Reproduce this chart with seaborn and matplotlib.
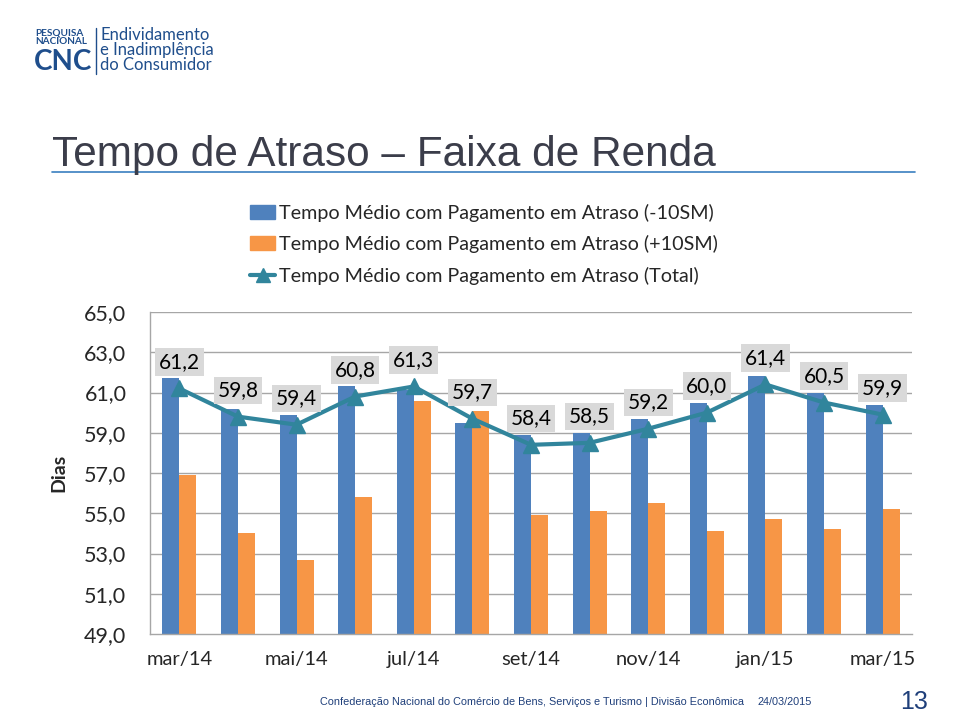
import numpy as np
import pandas as pd
import matplotlib.pyplot as plt
import seaborn as sns
from matplotlib.patches import Patch
from matplotlib.lines import Line2D

# Data
meses = ['mar/14', 'abr/14', 'mai/14', 'jun/14', 'jul/14', 'ago/14', 'set/14',
         'out/14', 'nov/14', 'dez/14', 'jan/15', 'fev/15', 'mar/15']
menos_10sm = [61.7, 60.2, 59.9, 61.3, 61.1, 59.5, 58.9, 59.0, 59.7, 60.5, 61.8, 61.0, 60.4]
mais_10sm = [56.9, 54.0, 52.7, 55.8, 60.6, 60.1, 54.9, 55.1, 55.5, 54.1, 54.7, 54.2, 55.2]
total = [61.2, 59.8, 59.4, 60.8, 61.3, 59.7, 58.4, 58.5, 59.2, 60.0, 61.4, 60.5, 59.9]

serie_a = 'Tempo Médio com Pagamento em Atraso (-10SM)'
serie_b = 'Tempo Médio com Pagamento em Atraso (+10SM)'
serie_c = 'Tempo Médio com Pagamento em Atraso (Total)'

df = pd.DataFrame({'mes': meses * 2,
                   'valor': menos_10sm + mais_10sm,
                   'serie': [serie_a] * len(meses) + [serie_b] * len(meses)})

sns.set_theme(style='white')
plt.rcParams['font.family'] = ['Lato', 'DejaVu Sans']

azul = '#4f81bd'
laranja = '#f79646'
verde = '#31859c'
cinza = '#a6a6a6'
arial = ['Liberation Sans', 'DejaVu Sans']

fig = plt.figure(figsize=(9.6, 7.2), dpi=100)
ax = fig.add_axes([150 / 960, 1 - 634 / 720, (912 - 150) / 960, (634 - 312) / 720])

sns.barplot(data=df, x='mes', y='valor', hue='serie', order=meses,
            palette=[azul, laranja], width=0.58, gap=0, saturation=1,
            linewidth=0, ax=ax, legend=False)

pos = np.arange(len(meses))
ax.plot(pos, total, color=verde, linewidth=3, marker='^', markersize=11,
        markeredgecolor=verde, zorder=5)

for x, v in zip(pos, total):
    ax.annotate(f'{v:.1f}'.replace('.', ','), (x, v), xytext=(0, 19),
                textcoords='offset points', ha='center', va='center',
                fontsize=15, color='black', zorder=6,
                bbox=dict(boxstyle='square,pad=0.18', fc='#d9d9d9', ec='none'))

ax.set_ylim(49, 65)
ax.set_xlim(-0.5, len(meses) - 0.5)
yt = np.arange(49, 66, 2)
ax.set_yticks(yt)
ax.set_yticklabels([f'{t:.1f}'.replace('.', ',') for t in yt], fontsize=15.5)
for t in yt[1:]:
    ax.axhline(t, color=cinza, linewidth=1, zorder=0)
ax.set_axisbelow(True)
ax.set_xticks(pos[::2])
ax.set_xticklabels(meses[::2], fontsize=14.5)
ax.tick_params(axis='y', length=0, pad=17)
ax.tick_params(axis='x', length=0, pad=12)
ax.set_xlabel('')
ax.set_ylabel('Dias', fontsize=14, fontweight='bold', labelpad=12)
for s in ['top', 'right']:
    ax.spines[s].set_visible(False)
for s in ['left', 'bottom']:
    ax.spines[s].set_color(cinza)
    ax.spines[s].set_linewidth(1)

# Legend
handles = [Patch(color=azul, label=serie_a),
           Patch(color=laranja, label=serie_b),
           Line2D([], [], color=verde, linewidth=3, marker='^', markersize=10, label=serie_c)]
fig.legend(handles=handles, loc='upper left', bbox_to_anchor=(232 / 960, 1 - 186 / 720),
           frameon=False, fontsize=14.2, handlelength=1.3, handletextpad=0.2,
           labelspacing=0.68)

# Title and header
fig.text(52 / 960, 1 - 155 / 720, 'Tempo de Atraso – Faixa de Renda',
         family=arial, fontsize=30.5, color='#3b3d4a', va='center', ha='left')
fig.add_artist(Line2D([52 / 960, 915 / 960], [1 - 172 / 720, 1 - 172 / 720],
                      color='#3a7fc0', linewidth=1.2))

fig.text(35 / 960, 1 - 37 / 720, 'PESQUISA\nNACIONAL', fontsize=7.2, color='#1f4e8c',
         fontweight='bold', va='center', ha='left', linespacing=0.95)
fig.text(34 / 960, 1 - 62 / 720, 'CNC', fontsize=20, color='#1f4e8c',
         fontweight='bold', va='center', ha='left')
fig.add_artist(Line2D([96 / 960, 96 / 960], [1 - 28 / 720, 1 - 74 / 720],
                      color='#1f4e8c', linewidth=1))
fig.text(100 / 960, 1 - 50 / 720, 'Endividamento\ne Inadimplência\ndo Consumidor',
         fontsize=12, color='#1f4e8c', va='center', ha='left', linespacing=0.95)

# Footer
fig.text(320 / 960, 1 - 702 / 720,
         'Confederação Nacional do Comércio de Bens, Serviços e Turismo | Divisão Econômica',
         family=arial, fontsize=7.8, color='#1f3f7a', va='center')
fig.text(757 / 960, 1 - 702 / 720, '24/03/2015',
         family=arial, fontsize=7.8, color='#1f3f7a', va='center')
fig.text(900 / 960, 1 - 702 / 720, '13',
         family=arial, fontsize=18, color='#1f3f7a', va='center')

fig.savefig('out.png', dpi=100)
